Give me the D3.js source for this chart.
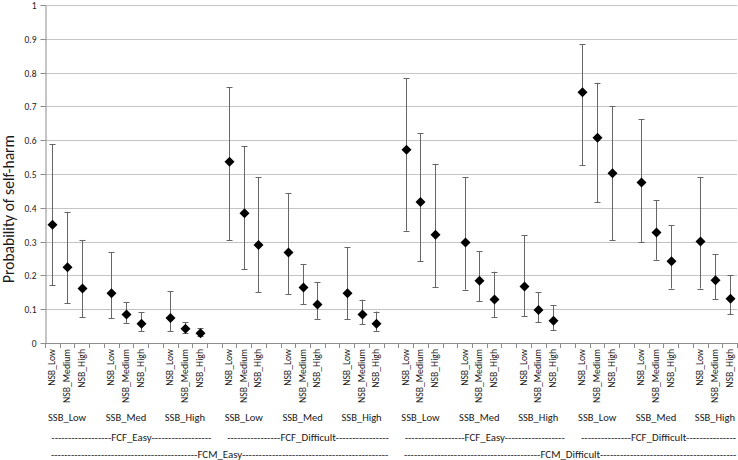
<!DOCTYPE html>
<html>
<head>
<meta charset="utf-8">
<script src="https://cdn.jsdelivr.net/npm/d3@7/dist/d3.min.js"></script>
<style>
  html, body { margin: 0; padding: 0; background: #fff; }
  svg { display: block; font-family: Carlito, "Liberation Sans", Arial, sans-serif; }
</style>
</head>
<body>
<svg id="chart" width="738" height="460"></svg>
<script>
const fcmLevels = ["FCM_Easy", "FCM_Difficult"];
const fcfLevels = ["FCF_Easy", "FCF_Difficult"];
const ssbLevels = ["SSB_Low", "SSB_Med", "SSB_High"];
const nsbLevels = ["NSB_Low", "NSB_Medium", "NSB_High"];

const estimates = [0.350, 0.224, 0.161, 0.147, 0.084, 0.057, 0.074, 0.042, 0.029,
                   0.536, 0.384, 0.290, 0.268, 0.164, 0.114, 0.147, 0.084, 0.057,
                   0.572, 0.417, 0.320, 0.297, 0.184, 0.129, 0.167, 0.098, 0.066,
                   0.742, 0.607, 0.502, 0.475, 0.327, 0.242, 0.300, 0.186, 0.131];
const lowerCI   = [0.171, 0.117, 0.076, 0.073, 0.058, 0.035, 0.035, 0.029, 0.020,
                   0.305, 0.219, 0.150, 0.144, 0.114, 0.071, 0.071, 0.055, 0.035,
                   0.332, 0.242, 0.166, 0.158, 0.123, 0.077, 0.080, 0.062, 0.038,
                   0.526, 0.416, 0.305, 0.298, 0.246, 0.161, 0.161, 0.129, 0.085];
const upperCI   = [0.588, 0.388, 0.305, 0.269, 0.120, 0.091, 0.153, 0.061, 0.043,
                   0.757, 0.582, 0.490, 0.444, 0.233, 0.180, 0.283, 0.128, 0.093,
                   0.783, 0.620, 0.530, 0.490, 0.271, 0.211, 0.319, 0.150, 0.112,
                   0.884, 0.770, 0.700, 0.662, 0.422, 0.348, 0.490, 0.262, 0.200];
const yTicks = [0, 0.1, 0.2, 0.3, 0.4, 0.5, 0.6, 0.7, 0.8, 0.9, 1];
const yTitle = "Probability of self-harm";

// Build category slots: 3 NSB points per SSB group, then an empty slot
const slots = [];
const points = [];
let k = 0;
fcmLevels.forEach(fcm => fcfLevels.forEach(fcf => ssbLevels.forEach(ssb => {
  nsbLevels.forEach(nsb => {
    const slot = slots.length;
    slots.push({label: nsb, fcm, fcf, ssb});
    points.push({slot, nsb, ssb, fcf, fcm, est: estimates[k], lo: lowerCI[k], hi: upperCI[k]});
    k++;
  });
  slots.push({label: "", fcm, fcf, ssb, blank: true});
})));
slots.pop(); // no trailing empty slot

const svg = d3.select("#chart");
const pLeft = 45, pRight = 737, pTop = 5, pBottom = 343;
const textColor = "#1a1a1a";

// font size so that a sample string gets a given width
function fitSize(sample, target) {
  const t = svg.append("text").attr("font-size", 100).text(sample);
  const w = t.node().getComputedTextLength();
  t.remove();
  return +(100 * target / w).toFixed(2);
}
const fsTick = fitSize("0.9", 12);
const fsNsb = fitSize("NSB_Medium", 54);
const fsSsb = fitSize("SSB_Med", 40.5);
const fsGroup = fitSize("FCF_Easy", 40.5);
const fsTitle = fitSize(yTitle, 148);

const x = d3.scaleBand().domain(d3.range(slots.length)).range([pLeft, pRight]).padding(0);
const y = d3.scaleLinear().domain([0, 1]).range([pBottom, pTop]);
const cx = i => x(i) + x.bandwidth() / 2;

// gridlines
svg.append("g").selectAll("line").data(yTicks.filter(t => t > 0)).join("line")
  .attr("x1", pLeft).attr("x2", pRight)
  .attr("y1", d => Math.round(y(d)) + 0.5).attr("y2", d => Math.round(y(d)) + 0.5)
  .attr("stroke", "#c4c4c4").attr("stroke-width", 1);

// y axis
const yAxis = svg.append("g").attr("transform", `translate(${pLeft + 0.5},0)`)
  .call(d3.axisLeft(y).tickValues(yTicks).tickSize(5).tickSizeOuter(0)
    .tickFormat(d => d === 0 ? "0" : d === 1 ? "1" : d3.format(".1f")(d)));
yAxis.select(".domain").attr("stroke", "#8c8c8c");
yAxis.selectAll(".tick line").attr("stroke", "#8c8c8c");
yAxis.selectAll(".tick text").attr("font-size", fsTick).attr("fill", textColor)
  .attr("x", -9).attr("font-family", "Carlito, 'Liberation Sans', Arial, sans-serif");
yAxis.selectAll(".tick").attr("transform", d => `translate(0,${Math.round(y(d)) + 0.5})`);

// x axis line + ticks
const xg = svg.append("g");
xg.append("line").attr("x1", pLeft).attr("x2", pRight)
  .attr("y1", pBottom + 0.5).attr("y2", pBottom + 0.5).attr("stroke", "#8c8c8c");
xg.selectAll("line.tk").data(d3.range(slots.length + 1)).join("line").attr("class", "tk")
  .attr("x1", i => Math.round(pLeft + i * x.step()) + 0.5)
  .attr("x2", i => Math.round(pLeft + i * x.step()) + 0.5)
  .attr("y1", pBottom).attr("y2", pBottom + 5).attr("stroke", "#8c8c8c");

// NSB labels rotated
xg.selectAll("text.nsb").data(slots.map((s, i) => ({s, i})).filter(d => !d.s.blank)).join("text")
  .attr("class", "nsb")
  .attr("transform", d => `translate(${cx(d.i)},349) rotate(-90)`)
  .attr("text-anchor", "end").attr("dominant-baseline", "central")
  .attr("font-size", fsNsb).attr("fill", textColor)
  .text(d => d.s.label);

// SSB labels
const ssbGroups = d3.groups(points, p => p.fcm + p.fcf + p.ssb).map(([key, arr]) => ({
  label: arr[0].ssb, center: (cx(arr[0].slot) + cx(arr[arr.length - 1].slot)) / 2
}));
xg.selectAll("text.ssb").data(ssbGroups).join("text").attr("class", "ssb")
  .attr("x", d => d.center).attr("y", 417).attr("text-anchor", "middle")
  .attr("dominant-baseline", "central")
  .attr("font-size", fsSsb).attr("fill", textColor).text(d => d.label);

// dashed group labels
function dashLabel(label, x0, x1, yy) {
  const t = xg.append("text").attr("y", yy).attr("text-anchor", "middle")
    .attr("dominant-baseline", "central")
    .attr("font-size", fsGroup).attr("fill", textColor).text(label);
  const lw = t.node().getComputedTextLength();
  const probe = xg.append("text").attr("font-size", fsGroup).text("----------");
  const dw = probe.node().getComputedTextLength() / 10;
  probe.remove();
  const center = (x0 + x1) / 2;
  const n = Math.max(0, Math.floor(((x1 - x0) - lw) / 2 / dw));
  const dashes = "-".repeat(n);
  t.attr("x", center).text(dashes + label + dashes);
}
const step = x.step();
const fcfGroups = d3.groups(points, p => p.fcm + p.fcf).map(([key, arr]) => arr);
fcfGroups.forEach(arr => {
  const s0 = arr[0].slot, s1 = arr[arr.length - 1].slot;
  dashLabel(arr[0].fcf, x(s0) + 5, Math.min(pRight, x(s1) + 2 * step - 9), 437);
});
const fcmGroups = d3.groups(points, p => p.fcm).map(([key, arr]) => arr);
fcmGroups.forEach(arr => {
  const s0 = arr[0].slot, s1 = arr[arr.length - 1].slot;
  dashLabel(arr[0].fcm, x(s0) + 5, Math.min(pRight, x(s1) + 2 * step - 9), 454);
});

// error bars
const eb = svg.append("g").attr("stroke", "#666").attr("stroke-width", 1);
points.forEach(p => {
  const xc = Math.round(cx(p.slot)) + 0.5;
  eb.append("line").attr("x1", xc).attr("x2", xc).attr("y1", y(p.hi)).attr("y2", y(p.lo));
  eb.append("line").attr("x1", xc - 3).attr("x2", xc + 3).attr("y1", Math.round(y(p.hi)) + 0.5).attr("y2", Math.round(y(p.hi)) + 0.5);
  eb.append("line").attr("x1", xc - 3).attr("x2", xc + 3).attr("y1", Math.round(y(p.lo)) + 0.5).attr("y2", Math.round(y(p.lo)) + 0.5);
});

// diamond markers
svg.append("g").selectAll("path").data(points).join("path")
  .attr("transform", p => `translate(${Math.round(cx(p.slot)) + 0.5},${y(p.est)})`)
  .attr("d", "M0,-5L5,0L0,5L-5,0Z").attr("fill", "#000");

// y title
svg.append("text").attr("transform", `translate(8,209) rotate(-90)`)
  .attr("text-anchor", "middle").attr("dominant-baseline", "central")
  .attr("font-size", fsTitle).attr("fill", textColor).text(yTitle);
</script>
</body>
</html>
